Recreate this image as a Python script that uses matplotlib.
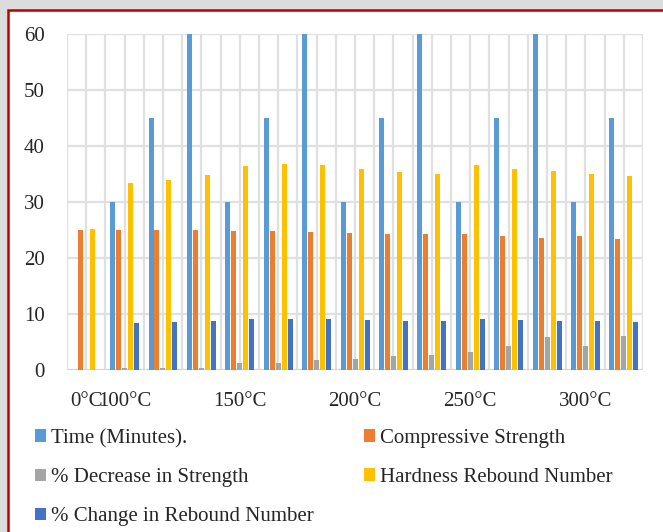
import numpy as np
import matplotlib.pyplot as plt
from matplotlib.patches import Rectangle

plt.rcParams['font.family'] = ['Liberation Serif', 'DejaVu Serif']

categories = ['0°C', '100°C', '', '', '150°C', '', '', '200°C', '', '',
              '250°C', '', '', '300°C', '']
time_min = [0, 30, 45, 60, 30, 45, 60, 30, 45, 60, 30, 45, 60, 30, 45]
comp_strength = [25.07, 25.0, 25.0, 24.95, 24.77, 24.77, 24.59, 24.5, 24.35,
                 24.23, 24.23, 23.93, 23.57, 23.88, 23.46]
decrease_pct = [0, 0.3, 0.3, 0.35, 1.25, 1.25, 1.73, 1.9, 2.5, 2.62, 3.16,
                4.23, 5.9, 4.23, 6.0]
rebound_no = [25.25, 33.34, 33.88, 34.9, 36.55, 36.85, 36.7, 35.84, 35.36,
              35.0, 36.68, 36.0, 35.54, 34.95, 34.59]
change_pct = [0, 8.39, 8.5, 8.7, 9.05, 9.17, 9.05, 8.87, 8.75, 8.7, 9.1,
              8.93, 8.8, 8.7, 8.57]

series = [
    ('Time (Minutes).', time_min, '#5B9BD5'),
    ('Compressive Strength', comp_strength, '#ED7D31'),
    ('% Decrease in Strength', decrease_pct, '#A5A5A5'),
    ('Hardness Rebound Number', rebound_no, '#FFC000'),
    ('% Change in Rebound Number', change_pct, '#4472C4'),
]

fig = plt.figure(figsize=(6.63, 5.32), dpi=100)
fig.patch.set_facecolor('#dcdcdc')
# white card with red frame (right / bottom edges fall outside the image)
fig.add_artist(Rectangle((8 / 663, -0.1), 1.2, (532 - 10) / 532 + 0.1,
                         transform=fig.transFigure, facecolor='white',
                         edgecolor='#c00000', lw=1.8, zorder=-1))

ax = fig.add_axes([0.101, 0.3045, 0.869, 0.631])
ax.patch.set_alpha(0)

x = np.arange(len(categories))
step = 0.156
handles = []
for i, (label, vals, color) in enumerate(series):
    h = ax.bar(x + (i - 2) * step, vals, width=0.13, color=color, label=label, zorder=3)
    handles.append(h)

ax.set_xlim(-0.5, len(categories) - 0.5)
ax.set_ylim(0, 60)
ax.set_yticks(range(0, 61, 10))
ax.set_xticks(x)
ax.set_xticklabels(categories)
ax.set_xticks(np.arange(-0.5, len(categories), 0.5), minor=True)
ax.grid(True, which='both', color='#e0e0e0', lw=1.6, zorder=0)
ax.axhline(0, color='#d0d0d0', lw=1.8, zorder=2)
for s in ax.spines.values():
    s.set_visible(False)
ax.tick_params(axis='both', which='both', length=0, labelsize=15, colors='#262626')
ax.tick_params(axis='y', pad=16)
ax.tick_params(axis='x', pad=16)

leg_kw = dict(frameon=False, loc='upper left', fontsize=15, borderpad=0,
              borderaxespad=0, handlelength=0.54, handleheight=0.54,
              handletextpad=0.25, labelspacing=0.97, labelcolor='#262626')
leg1 = fig.legend([handles[0], handles[2], handles[4]],
                  [series[0][0], series[2][0], series[4][0]],
                  bbox_to_anchor=(0.0528, 0.194), **leg_kw)
leg2 = fig.legend([handles[1], handles[3]],
                  [series[1][0], series[3][0]],
                  bbox_to_anchor=(0.549, 0.194), **leg_kw)

fig.savefig('out.png', dpi=100, facecolor=fig.get_facecolor())
